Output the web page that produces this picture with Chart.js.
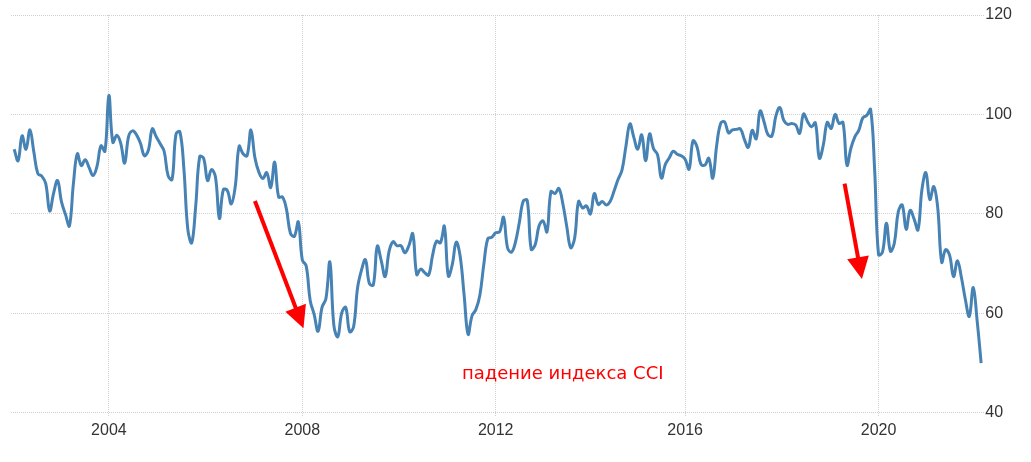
<!DOCTYPE html>
<html>
<head>
<meta charset="utf-8">
<script src="https://cdn.jsdelivr.net/npm/chart.js@4"></script>
<style>
  html, body { margin: 0; padding: 0; background: #fff; }
</style>
</head>
<body>
<canvas id="cciChart" width="1031" height="462"></canvas>
<script>
// monthly consumer sentiment, Jan 2002 .. Jun 2022
const sentiment = [
    93.0, 90.7, 95.7, 93.0, 96.9, 92.4, 88.1, 87.6, 86.1, 80.6, 84.2, 86.7,
    82.4, 79.9, 77.6, 86.0, 92.1, 89.7, 90.9, 89.3, 87.7, 89.6, 93.7, 92.6,
    103.8, 94.4, 95.8, 94.2, 90.2, 95.6, 96.7, 95.9, 94.2, 91.7, 92.8, 97.1,
    95.5, 94.1, 92.6, 87.7, 86.9, 96.0, 96.5, 89.1, 76.9, 74.2, 81.6, 91.5,
    91.2, 86.7, 88.9, 87.4, 79.1, 84.9, 84.7, 82.0, 85.4, 93.6, 92.1, 91.7,
    96.9, 91.3, 88.4, 87.1, 88.3, 85.3, 90.4, 83.4, 83.4, 80.9, 76.1, 75.5,
    78.4, 70.8, 69.5, 62.6, 59.8, 56.4, 61.2, 63.0, 70.3, 57.6, 55.3, 60.1,
    61.2, 56.3, 57.3, 65.1, 68.7, 70.8, 66.0, 65.7, 73.5, 70.6, 67.4, 72.5,
    74.4, 73.6, 73.6, 72.2, 73.6, 76.0, 67.8, 68.9, 68.2, 67.7, 71.6, 74.5,
    74.2, 77.5, 67.5, 69.8, 74.3, 71.5, 63.7, 55.8, 59.5, 60.8, 63.7, 69.9,
    75.0, 75.3, 76.2, 76.4, 79.3, 73.2, 72.3, 74.3, 78.3, 82.6, 82.7, 72.9,
    73.8, 77.6, 78.6, 76.4, 84.5, 84.1, 85.1, 82.1, 77.5, 73.2, 75.1, 82.5,
    81.2, 81.6, 80.0, 84.1, 81.9, 82.5, 81.8, 82.5, 84.6, 86.9, 88.8, 93.6,
    98.1, 95.4, 93.0, 95.9, 90.7, 96.1, 93.1, 91.9, 87.2, 90.0, 91.3, 92.6,
    92.0, 91.7, 91.0, 89.0, 94.7, 93.5, 90.0, 89.8, 91.2, 87.2, 93.8, 98.2,
    98.5, 96.3, 96.9, 97.0, 97.1, 95.0, 93.4, 96.8, 95.1, 100.7, 98.5, 95.9,
    95.7, 99.7, 101.4, 98.8, 98.0, 98.2, 97.9, 96.2, 100.1, 98.6, 97.5, 98.3,
    91.2, 93.8, 98.4, 97.2, 100.0, 98.2, 98.4, 89.8, 93.2, 95.5, 96.8, 99.3,
    99.8, 101.0, 89.1, 71.8, 72.3, 78.1, 72.5, 74.1, 80.4, 81.8, 76.9, 80.7,
    79.0, 76.8, 84.9, 88.3, 82.9, 85.5, 81.2, 70.3, 72.8, 71.7, 67.4, 70.6,
    67.2, 62.8, 59.4, 65.2, 58.4, 50.0
];

// x ticks: month index where each label sits on the picture
const tickPositions = [24, 73, 122, 170, 219];
const tickLabels = ['2004', '2008', '2012', '2016', '2020'];

const yTicks = [40, 60, 80, 100, 120];

// red annotations, in (month index, value)
const arrows = [
    { from: [61.0, 82.6], to: [73.3, 57.0] },
    { from: [210.4, 86.1], to: [214.8, 66.9] }
];
const noteText = 'падение индекса CCI';
const notePos = [139, 47.7];

const annotate = {
    id: 'annotate',
    afterDatasetsDraw(chart) {
        const ctx = chart.ctx;
        const xs = chart.scales.x, ys = chart.scales.y;
        ctx.save();
        ctx.strokeStyle = '#ff0000';
        ctx.fillStyle = '#ff0000';
        ctx.lineWidth = 4;
        arrows.forEach(a => {
            const x1 = xs.getPixelForValue(a.from[0]), y1 = ys.getPixelForValue(a.from[1]);
            const x2 = xs.getPixelForValue(a.to[0]), y2 = ys.getPixelForValue(a.to[1]);
            const len = Math.hypot(x2 - x1, y2 - y1);
            const dx = (x2 - x1) / len, dy = (y2 - y1) / len;
            const headLen = 22, headW = 11;
            const bx = x2 - dx * headLen, by = y2 - dy * headLen;
            ctx.beginPath();
            ctx.moveTo(x1, y1);
            ctx.lineTo(bx + dx * 2, by + dy * 2);
            ctx.stroke();
            ctx.beginPath();
            ctx.moveTo(x2, y2);
            ctx.lineTo(bx - dy * headW, by + dx * headW);
            ctx.lineTo(bx + dy * headW, by - dx * headW);
            ctx.closePath();
            ctx.fill();
        });
        ctx.font = '18px "DejaVu Sans"';
        ctx.textAlign = 'center';
        ctx.textBaseline = 'middle';
        ctx.fillText(noteText, xs.getPixelForValue(notePos[0]), ys.getPixelForValue(notePos[1]));
        ctx.restore();
    }
};

const gridStyle = {
    color: '#cfcfcf',
    lineWidth: 1,
    tickColor: '#cfcfcf'
};

new Chart(document.getElementById('cciChart').getContext('2d'), {
    type: 'line',
    data: {
        datasets: [{
            data: sentiment.map((v, i) => ({ x: i, y: v })),
            borderColor: '#4682b4',
            borderWidth: 3,
            pointRadius: 0,
            tension: 0.4,
            fill: false
        }]
    },
    options: {
        responsive: false,
        animation: false,
        layout: { padding: { left: 11, right: 18, top: 15, bottom: 18 } },
        plugins: {
            legend: { display: false },
            tooltip: { enabled: false }
        },
        scales: {
            x: {
                type: 'linear',
                min: -0.8,
                max: 245.8,
                border: { display: false, dash: [1, 1] },
                grid: Object.assign({}, gridStyle, { drawTicks: true, tickLength: 4, tickBorderDash: [1, 1] }),
                afterBuildTicks: axis => { axis.ticks = tickPositions.map(v => ({ value: v })); },
                ticks: {
                    autoSkip: false,
                    maxRotation: 0,
                    padding: 4,
                    color: '#333',
                    font: { family: '"Liberation Sans", Arial', size: 16 },
                    callback: (val, idx) => tickLabels[idx]
                }
            },
            y: {
                position: 'right',
                min: 40,
                max: 120,
                border: { display: false, dash: [1, 1] },
                grid: Object.assign({}, gridStyle, { drawTicks: false }),
                afterBuildTicks: axis => { axis.ticks = yTicks.map(v => ({ value: v })); },
                ticks: {
                    padding: 1,
                    color: '#333',
                    font: { family: '"Liberation Sans", Arial', size: 16 }
                }
            }
        }
    },
    plugins: [annotate]
});
</script>
</body>
</html>
